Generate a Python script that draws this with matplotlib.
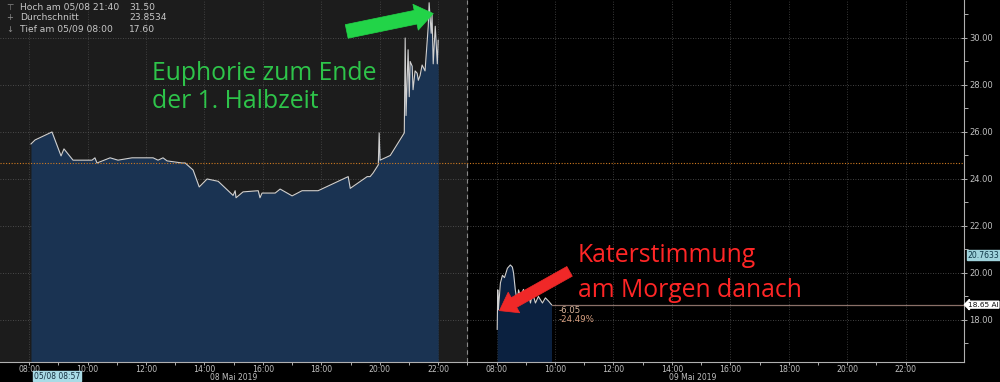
import matplotlib
matplotlib.use("Agg")
import matplotlib.pyplot as plt
import numpy as np
from matplotlib.ticker import FixedLocator, FuncFormatter

# ---- data (time of day in hours, price) ----
day1_time = [8.06, 8.20, 8.78, 9.09, 9.19, 9.50, 10.15, 10.25, 10.32, 10.77, 11.04, 11.52,
             12.24, 12.41, 12.58, 12.72, 13.23, 13.34, 13.61, 13.82, 14.09, 14.47, 14.98,
             15.05, 15.08, 15.32, 15.84, 15.90, 15.97, 16.42, 16.59, 17.00, 17.34, 17.89,
             18.92, 18.99, 19.57, 19.67, 19.77, 19.95, 19.98, 20.01, 20.36, 20.84, 20.87,
             20.90, 20.97, 21.01, 21.04, 21.11, 21.14, 21.21, 21.28, 21.32, 21.38, 21.45,
             21.55, 21.66, 21.69, 21.76, 21.79, 21.83, 21.90, 21.97, 22.00]
day1_price = [25.49, 25.66, 26.00, 24.98, 25.28, 24.80, 24.80, 24.90, 24.68, 24.90, 24.80, 24.90,
              24.90, 24.80, 24.90, 24.77, 24.68, 24.68, 24.38, 23.66, 24.00, 23.90, 23.30,
              23.50, 23.20, 23.45, 23.50, 23.20, 23.40, 23.40, 23.57, 23.28, 23.50, 23.50,
              24.10, 23.60, 24.10, 24.10, 24.25, 24.60, 25.96, 24.80, 25.00, 25.96, 30.00,
              26.70, 29.50, 27.50, 29.00, 28.80, 27.80, 28.60, 28.50, 28.20, 28.40, 28.85,
              28.60, 30.50, 31.50, 30.20, 31.00, 28.90, 30.50, 28.90, 29.90]
day2_time = [8.02, 8.04, 8.06, 8.13, 8.20, 8.27, 8.37, 8.47, 8.54, 8.58, 8.64, 8.71, 8.75,
             8.82, 8.92, 8.99, 9.06, 9.16, 9.23, 9.33, 9.43, 9.57, 9.67, 9.78, 9.88]
day2_price = [17.60, 19.28, 18.43, 19.57, 19.90, 19.80, 20.20, 20.34, 20.25, 20.00, 19.28, 18.72,
              19.28, 19.00, 19.30, 19.00, 19.28, 18.72, 19.15, 18.72, 19.00, 18.72, 18.94,
              18.80, 18.65]
average_line = 24.7
last_price = 18.65
hour_ticks = [8, 10, 12, 14, 16, 18, 20, 22]
price_ticks = [18, 20, 22, 24, 26, 28, 30]
day_labels = ["08 Mai 2019", "09 Mai 2019"]

# session axis: each day shown 07:00 .. 23:00 (16 h), second day starts at 16
def to_x(t, day):
    return np.asarray(t) - 7 + 16 * day

fig = plt.figure(figsize=(10, 3.82), dpi=100, facecolor="black")
ax = fig.add_axes([0.0, 20 / 382, 0.964, 362 / 382])
ax.set_facecolor("black")
ax.set_xlim(0, 33)
ax.set_ylim(16.21, 31.617)
ax.axvspan(0, 16, color="#1c1c1c", zorder=0)

x1 = to_x(day1_time, 0)
x2 = to_x(day2_time, 1)
ax.fill_between(x1, day1_price, 16.21, color="#1a3352", zorder=2, lw=0)
ax.fill_between(x2, day2_price, 16.21, color="#0b2140", zorder=2, lw=0)
ax.plot(x1, day1_price, color="#d0d0d0", lw=0.8, zorder=3)
ax.plot(x2, day2_price, color="#d0d0d0", lw=0.8, zorder=3)

# grid
major_x = [to_x(h, 0) for h in hour_ticks] + [to_x(h, 1) for h in hour_ticks]
for xv in major_x:
    ax.axvline(xv, color="#4a4a4a", lw=0.6, ls=(0, (1, 2)), zorder=1)
for yv in price_ticks:
    ax.axhline(yv, color="#5a5a5a", lw=0.6, ls=(0, (1, 2)), zorder=1)
ax.axvline(16, color="#8a8a8a", lw=0.8, ls=(0, (4, 3)), zorder=1)
ax.axhline(average_line, color="#d07a20", lw=0.8, ls=(0, (1, 1.5)), zorder=4)
ax.plot([to_x(day2_time[-1], 1), 33], [last_price, last_price], color="#8a7068", lw=0.9, zorder=4)

# axes styling
for s in ["top", "left"]:
    ax.spines[s].set_visible(False)
for s in ["right", "bottom"]:
    ax.spines[s].set_color("#b0b0b0")
    ax.spines[s].set_linewidth(0.8)
ax.yaxis.tick_right()
ax.yaxis.set_major_locator(FixedLocator(price_ticks))
ax.yaxis.set_minor_locator(FixedLocator([17, 19, 21, 23, 25, 27, 29, 31]))
ax.yaxis.set_major_formatter(FuncFormatter(lambda v, p: f"{v:.2f}"))
ax.xaxis.set_major_locator(FixedLocator(major_x))
ax.xaxis.set_minor_locator(FixedLocator([to_x(h + 1, 0) for h in hour_ticks] +
                                        [to_x(h + 1, 1) for h in hour_ticks[:-1]]))
ax.set_xticklabels([f"{h:02d}:00" for h in hour_ticks] * 2)
ax.tick_params(axis="x", which="both", colors="#b0b0b0", labelcolor="#c0c0c0",
               labelsize=5.6, length=2, width=0.7, pad=0.3)
ax.tick_params(axis="y", which="both", colors="#b0b0b0", labelcolor="#c0c0c0",
               labelsize=6.0, length=3, width=0.7, pad=1.5)
ax.tick_params(axis="y", which="major", direction="inout", length=5)

fig.text(to_x(15, 0) / 33 * 0.964, 0.5 / 382, day_labels[0], ha="center", va="bottom",
         color="#c0c0c0", fontsize=5.5)
fig.text((to_x(15, 1) - 0.3) / 33 * 0.964, 0.5 / 382, day_labels[1], ha="center",
         va="bottom", color="#c0c0c0", fontsize=5.5)
fig.text(57 / 1000, 1.5 / 382, "05/08 08:57", ha="center", va="bottom",
         color="#163040", fontsize=5.5,
         bbox=dict(boxstyle="square,pad=0.06", fc="#a9dbe6", ec="#a9dbe6"))

yt = ax.get_yaxis_transform()
ax.text(1.004, 20.7633, "20.7633", transform=yt, ha="left", va="center", color="#0f3848",
        fontsize=5.6, bbox=dict(boxstyle="square,pad=0.1", fc="#9fd3dc", ec="#9fd3dc"))
ax.text(1.004, last_price, "18.65 AI", transform=yt, ha="left", va="center", color="#101010",
        fontsize=5.3, bbox=dict(boxstyle="larrow,pad=0.06", fc="white", ec="white"),
        clip_on=False)
ax.text(to_x(day2_time[-1], 1) + 0.25, 18.40, "-6.05", color="#d8b49a", fontsize=6.2,
        va="center")
ax.text(to_x(day2_time[-1], 1) + 0.25, 18.02, "-24.49%", color="#d8a080", fontsize=6.2,
        va="center")

# legend block top-left
leg = [("⊤", "Hoch am 05/08 21:40", "31.50"),
       ("+", "Durchschnitt", "23.8534"),
       ("↓", "Tief am 05/09 08:00", "17.60")]
for i, (sym, lab, val) in enumerate(leg):
    yy = 1 - (7 + 11 * i) / 382
    fig.text(0.006, yy, sym, color="#909090", fontsize=6, va="center")
    fig.text(0.020, yy, lab, color="#c8c8c8", fontsize=6.6, va="center")
    fig.text(0.129, yy, val, color="#c8c8c8", fontsize=6.6, va="center")

# annotations
fig.text(0.152, 1 - 80 / 382, "Euphorie zum Ende", color="#2ec44a", fontsize=17.8,
         family="Open Sans", va="baseline")
fig.text(0.152, 1 - 108 / 382, "der 1. Halbzeit", color="#2ec44a", fontsize=17.8,
         family="Open Sans", va="baseline")
fig.text(0.578, 1 - 262 / 382, "Katerstimmung", color="#ff2626", fontsize=17.8,
         family="Open Sans", va="baseline")
fig.text(0.578, 1 - 297 / 382, "am Morgen danach", color="#ff2626", fontsize=17.8,
         family="Open Sans", va="baseline")

ax.annotate("", xy=(0.436, 1 - 13 / 382), xytext=(0.344, 1 - 32 / 382),
            xycoords="figure fraction", textcoords="figure fraction",
            arrowprops=dict(arrowstyle="simple,head_length=1.3,head_width=1.9,tail_width=1.0",
                            fc="#22d448", ec="#22d448", lw=0.5), zorder=6)
ax.annotate("", xy=(0.497, 1 - 312 / 382), xytext=(0.572, 1 - 270 / 382),
            xycoords="figure fraction", textcoords="figure fraction",
            arrowprops=dict(arrowstyle="simple,head_length=1.2,head_width=1.7,tail_width=0.8",
                            fc="#f02828", ec="#f02828", lw=0.5), zorder=6)

fig.savefig("out.png", dpi=100, facecolor="black")
